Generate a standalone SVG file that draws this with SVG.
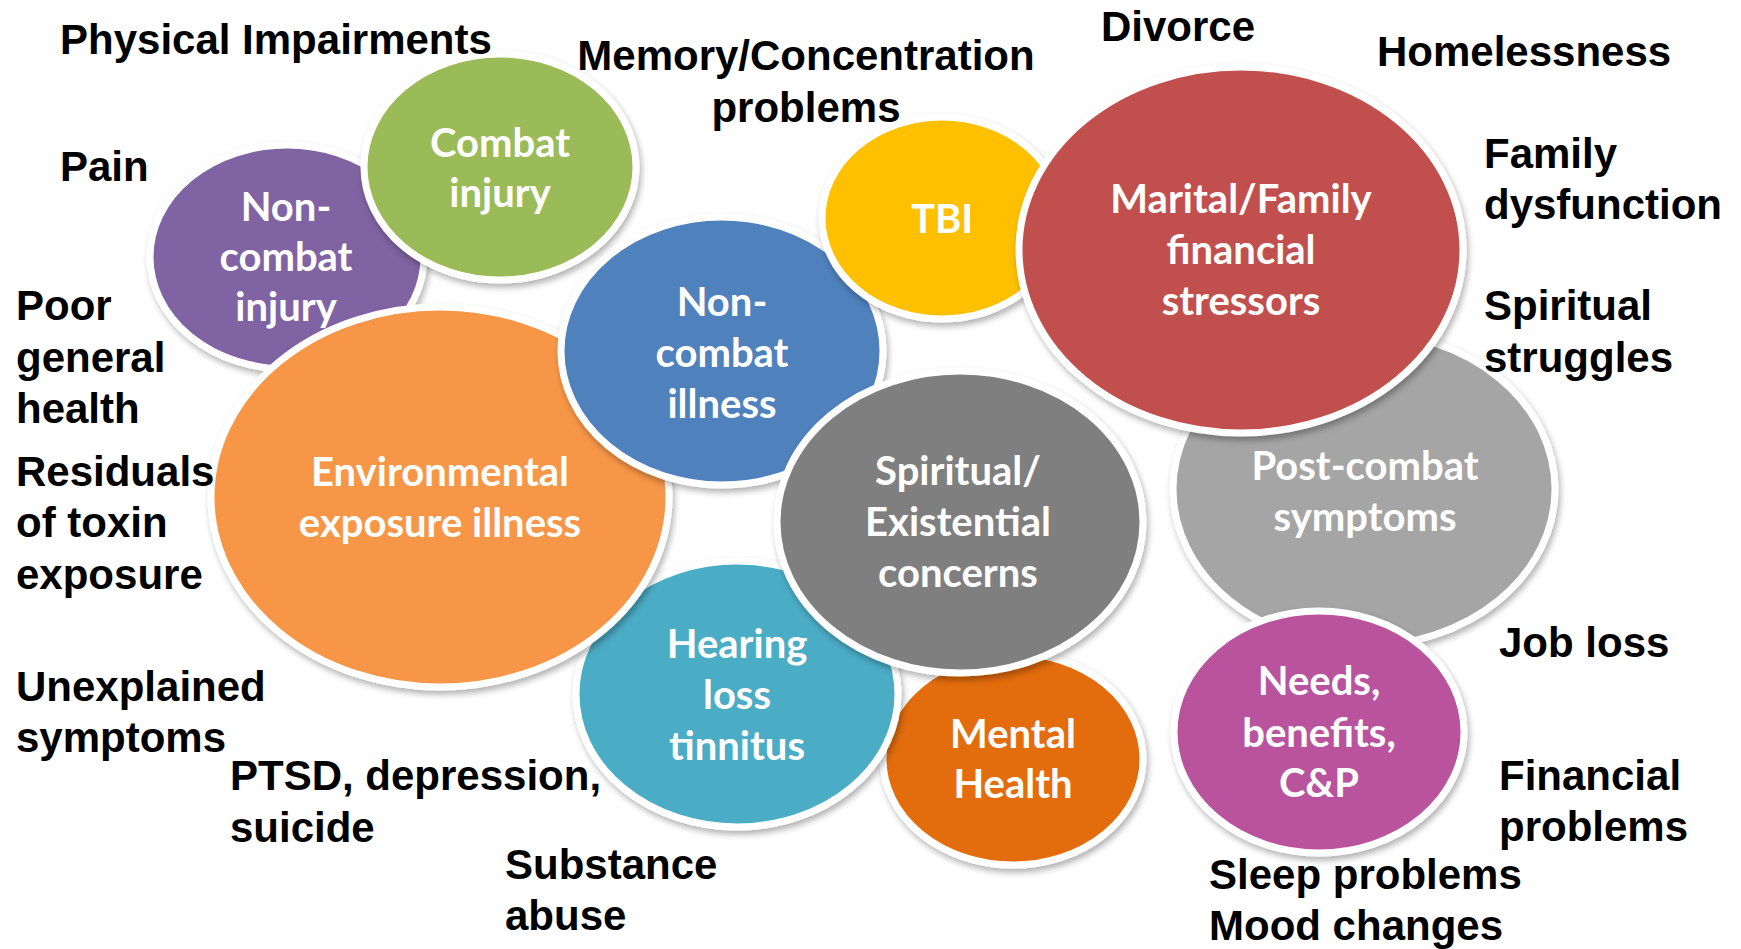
<svg xmlns="http://www.w3.org/2000/svg" width="1741" height="949" viewBox="0 0 1741 949">
<defs>
<filter id="sh" x="-10%" y="-10%" width="125%" height="125%">
<feDropShadow dx="2" dy="4" stdDeviation="3" flood-color="#000" flood-opacity="0.3"/>
</filter>
<style>
.b{stroke:#fff;stroke-width:7;filter:url(#sh)}
.t{font-family:Lato,"Open Sans",sans-serif;font-weight:bold;font-size:40px;fill:#fff;text-anchor:middle}
.l{font-family:"Liberation Sans",Arial,sans-serif;font-weight:bold;font-size:42px;fill:#000}
</style>
</defs>
<rect width="1741" height="949" fill="#fff"/>
<g id="connectors"/>
<g id="non-combat-injury">
<ellipse class="b" cx="287" cy="257" rx="137" ry="112" fill="#8064A2"/>
<text class="t" x="286" y="221">Non-</text>
<text class="t" x="286" y="271">combat</text>
<text class="t" x="286" y="321">injury</text>
</g>
<g id="combat-injury">
<ellipse class="b" cx="500" cy="167" rx="136" ry="113" fill="#9BBB59"/>
<text class="t" x="500" y="157">Combat</text>
<text class="t" x="500" y="207">injury</text>
</g>
<g id="mental-health">
<ellipse class="b" cx="1013" cy="759" rx="130" ry="106" fill="#E36C09"/>
<text class="t" x="1013" y="748">Mental</text>
<text class="t" x="1013" y="798">Health</text>
</g>
<g id="hearing-loss">
<ellipse class="b" cx="737" cy="694" rx="161" ry="133" fill="#4BACC6"/>
<text class="t" x="737" y="658">Hearing</text>
<text class="t" x="737" y="709">loss</text>
<text class="t" x="737" y="760">tinnitus</text>
</g>
<g id="environmental">
<ellipse class="b" cx="440" cy="497" rx="229" ry="190" fill="#F79646"/>
<text class="t" x="440" y="486">Environmental</text>
<text class="t" x="440" y="537">exposure illness</text>
</g>
<g id="non-combat-illness">
<ellipse class="b" cx="722" cy="351" rx="161" ry="134" fill="#4F81BD"/>
<text class="t" x="722" y="316">Non-</text>
<text class="t" x="722" y="367">combat</text>
<text class="t" x="722" y="418">illness</text>
</g>
<g id="tbi">
<ellipse class="b" cx="942" cy="218" rx="120" ry="101" fill="#FFC000"/>
<text class="t" x="942" y="233">TBI</text>
</g>
<g id="post-combat">
<ellipse class="b" cx="1364" cy="489" rx="191" ry="157" fill="#A5A5A5"/>
<text class="t" x="1365" y="480">Post-combat</text>
<text class="t" x="1365" y="531">symptoms</text>
</g>
<g id="marital">
<ellipse class="b" cx="1241" cy="250" rx="222" ry="183" fill="#C0504D"/>
<text class="t" x="1241" y="213">Marital/Family</text>
<text class="t" x="1241" y="264">financial</text>
<text class="t" x="1241" y="315">stressors</text>
</g>
<g id="needs">
<ellipse class="b" cx="1319" cy="732" rx="145" ry="121" fill="#BA529E"/>
<text class="t" x="1319" y="695">Needs,</text>
<text class="t" x="1319" y="747">benefits,</text>
<text class="t" x="1319" y="797">C&amp;P</text>
</g>
<g id="spiritual">
<ellipse class="b" cx="960" cy="522" rx="183" ry="151" fill="#7F7F7F"/>
<text class="t" x="958" y="485">Spiritual/</text>
<text class="t" x="958" y="536">Existential</text>
<text class="t" x="958" y="587">concerns</text>
</g>
<g id="labels">
<text class="l" x="60" y="54">Physical Impairments</text>
<text class="l" x="806" y="70" text-anchor="middle">Memory/Concentration</text>
<text class="l" x="806" y="122" text-anchor="middle">problems</text>
<text class="l" x="1101" y="41">Divorce</text>
<text class="l" x="1377" y="66">Homelessness</text>
<text class="l" x="60" y="181">Pain</text>
<text class="l" x="1484" y="168">Family</text>
<text class="l" x="1484" y="219">dysfunction</text>
<text class="l" x="16" y="320">Poor</text>
<text class="l" x="16" y="372">general</text>
<text class="l" x="16" y="423">health</text>
<text class="l" x="1484" y="320">Spiritual</text>
<text class="l" x="1484" y="372">struggles</text>
<text class="l" x="16" y="486">Residuals</text>
<text class="l" x="16" y="537">of toxin</text>
<text class="l" x="16" y="589">exposure</text>
<text class="l" x="16" y="701">Unexplained</text>
<text class="l" x="16" y="752">symptoms</text>
<text class="l" x="230" y="790">PTSD, depression,</text>
<text class="l" x="230" y="842">suicide</text>
<text class="l" x="505" y="879">Substance</text>
<text class="l" x="505" y="930">abuse</text>
<text class="l" x="1499" y="657">Job loss</text>
<text class="l" x="1499" y="790">Financial</text>
<text class="l" x="1499" y="841">problems</text>
<text class="l" x="1209" y="889">Sleep problems</text>
<text class="l" x="1209" y="940">Mood changes</text>
</g>
</svg>
